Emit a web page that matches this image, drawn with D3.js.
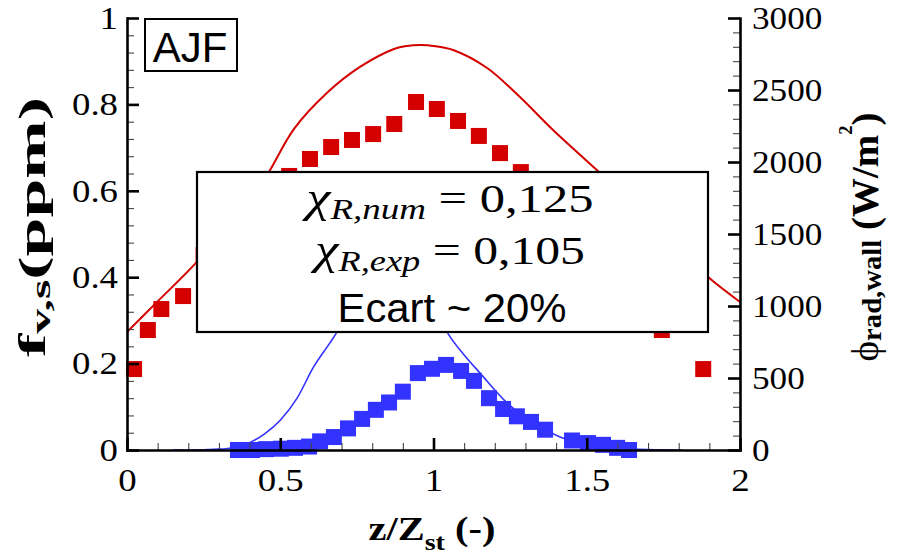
<!DOCTYPE html>
<html>
<head>
<meta charset="utf-8">
<script src="https://cdn.jsdelivr.net/npm/d3@7"></script>
<style>
  body { margin: 0; background: #fff; }
  svg { display: block; }
</style>
</head>
<body>
<svg id="chart" width="905" height="556"></svg>
<script>
// Numerical radiative wall flux (W/m²) along z/z_st
const fluxNumZ = [0, 0.1, 0.225, 0.3, 0.4, 0.463, 0.545, 0.652, 0.76, 0.871, 0.913, 0.96, 1.0, 1.064, 1.175, 1.282, 1.39, 1.54, 1.6, 1.7, 1.8, 1.896, 2.0];
const fluxNumW = [820, 1032, 1299, 1490, 1725, 1931, 2230, 2479, 2660, 2785, 2806, 2812, 2806, 2778, 2653, 2451, 2222, 1931, 1815, 1610, 1400, 1201, 1028];

// Measured radiative wall flux (W/m²)
const fluxExpZ = [0.023, 0.068, 0.112, 0.183, 0.25, 0.32, 0.39, 0.46, 0.529, 0.597, 0.666, 0.734, 0.803, 0.872, 0.943, 1.011, 1.080, 1.148, 1.217, 1.285, 1.354, 1.422, 1.49, 1.56, 1.63, 1.69, 1.745, 1.88];
const fluxExpW = [562, 833, 979, 1069, 1354, 1500, 1650, 1790, 1903, 2021, 2104, 2153, 2194, 2264, 2417, 2368, 2285, 2181, 2062, 1930, 1800, 1650, 1500, 1330, 1150, 980, 833, 562];

// Numerical soot volume fraction (ppm)
const sootNumZ = [0.15, 0.2, 0.3, 0.35, 0.4, 0.45, 0.5, 0.555, 0.607, 0.662, 0.685, 0.75, 0.8, 0.86, 0.92, 0.98, 1.047, 1.1, 1.152, 1.24, 1.325, 1.413, 1.5, 1.6, 1.7, 1.81];
const sootNumV = [0, 0, 0.002, 0.006, 0.017, 0.038, 0.069, 0.12, 0.19, 0.248, 0.273, 0.36, 0.41, 0.44, 0.43, 0.37, 0.27, 0.22, 0.178, 0.109, 0.062, 0.03, 0.012, 0.004, 0.001, 0];

// Measured soot volume fraction (ppm)
const sootExpZ = [0.362, 0.408, 0.454, 0.502, 0.548, 0.594, 0.63, 0.675, 0.721, 0.767, 0.812, 0.855, 0.90, 0.949, 0.995, 1.041, 1.090, 1.132, 1.181, 1.227, 1.272, 1.318, 1.364, 1.452, 1.504, 1.553, 1.599, 1.638];
const sootExpV = [0, 0, 0.002, 0.003, 0.005, 0.008, 0.02, 0.03, 0.05, 0.072, 0.093, 0.11, 0.135, 0.178, 0.188, 0.197, 0.183, 0.16, 0.12, 0.095, 0.078, 0.065, 0.047, 0.022, 0.016, 0.012, 0.005, 0];

// Axis ticks
const xMajor = [0, 0.5, 1, 1.5, 2];
const xLabels = ["0", "0.5", "1", "1.5", "2"];
const yLMajor = [0, 0.2, 0.4, 0.6, 0.8, 1];
const yLLabels = ["0", "0.2", "0.4", "0.6", "0.8", "1"];
const yRMajor = [0, 500, 1000, 1500, 2000, 2500, 3000];
const yRLabels = ["0", "500", "1000", "1500", "2000", "2500", "3000"];

const RED = "#d40000";
const BLUE = "#3333ff";
const SERIF = "'Liberation Serif', 'Times New Roman', serif";
const SANS = "'Liberation Sans', Arial, sans-serif";

const svg = d3.select("#chart");
svg.append("rect").attr("width", 905).attr("height", 556).attr("fill", "#fff");

const x = d3.scaleLinear().domain([0, 2]).range([127, 740]);
const yL = d3.scaleLinear().domain([0, 1]).range([450, 18]);
const yR = d3.scaleLinear().domain([0, 3000]).range([450, 18]);

const fluxNum = d3.zip(fluxNumZ, fluxNumW);
const fluxExp = d3.zip(fluxExpZ, fluxExpW);
const sootNum = d3.zip(sootNumZ, sootNumV);
const sootExp = d3.zip(sootExpZ, sootExpV);

const SQ = 16;

// Data layer
const data = svg.append("g");
data.append("path").datum(fluxNum)
  .attr("fill", "none").attr("stroke", RED).attr("stroke-width", 2)
  .attr("d", d3.line().x(d => x(d[0])).y(d => yR(d[1])).curve(d3.curveCatmullRom.alpha(0.5)));
data.append("path").datum(sootNum)
  .attr("fill", "none").attr("stroke", BLUE).attr("stroke-width", 1.6)
  .attr("d", d3.line().x(d => x(d[0])).y(d => yL(d[1])).curve(d3.curveMonotoneX));
data.selectAll("rect.fexp").data(fluxExp).join("rect").attr("class", "fexp")
  .attr("x", d => x(d[0]) - SQ / 2).attr("y", d => yR(d[1]) - SQ / 2)
  .attr("width", SQ).attr("height", SQ).attr("fill", RED);
data.selectAll("rect.sexp").data(sootExp).join("rect").attr("class", "sexp")
  .attr("x", d => x(d[0]) - SQ / 2).attr("y", d => yL(d[1]) - SQ / 2)
  .attr("width", SQ).attr("height", SQ).attr("fill", BLUE);

// Annotation box with the radiant fractions
const box = svg.append("g");
box.append("rect").attr("x", 197).attr("y", 172).attr("width", 511).attr("height", 160)
  .attr("fill", "#fff").attr("stroke", "#000").attr("stroke-width", 2.2);

function fitX(g, text, cx, cy, target) {
  const w = text.node().getComputedTextLength();
  g.attr("transform", `translate(${cx},${cy}) scale(${target / w},1)`);
}
function mathLine(label, value, cy, target) {
  const g = box.append("g");
  const t = g.append("text").attr("text-anchor", "middle")
    .attr("font-family", SERIF).attr("font-size", 41).attr("fill", "#000");
  t.append("tspan").attr("font-style", "italic").attr("font-size", 44).text("χ");
  t.append("tspan").attr("font-style", "italic").attr("font-size", 30).attr("dy", 7).text(label);
  t.append("tspan").attr("dy", -7).text(" = " + value);
  fitX(g, t, 450, cy, target);
}
mathLine("R,num", "0,125", 212, 287);
mathLine("R,exp", "0,105", 264, 270);
{
  const g = box.append("g");
  const t = g.append("text").attr("text-anchor", "middle")
    .attr("font-family", SANS).attr("font-size", 41).attr("fill", "#000").text("Ecart ~ 20%");
  fitX(g, t, 452, 322, 229);
}

// Case label
svg.append("rect").attr("x", 145).attr("y", 19).attr("width", 92).attr("height", 52)
  .attr("fill", "#fff").attr("stroke", "#000").attr("stroke-width", 2);
svg.append("text").attr("x", 190).attr("y", 62).attr("text-anchor", "middle")
  .attr("font-family", SANS).attr("font-size", 42).text("AJF");

// Axes
function styleAxis(g, stretch) {
  g.attr("font-family", SERIF).attr("font-size", 32);
  g.select(".domain").attr("stroke", "#000").attr("stroke-width", 2.6).attr("stroke-linecap", "square");
  g.selectAll(".tick line").attr("stroke", "#000").attr("stroke-width", 2.6);
  g.selectAll(".tick text").attr("fill", "#000").attr("font-family", SERIF).attr("font-size", 32)
    .each(function () {
      const l = this.getComputedTextLength();
      d3.select(this).attr("textLength", l * stretch).attr("lengthAdjust", "spacingAndGlyphs");
    });
}
function minor(axis, vals, transform) {
  const g = svg.append("g").attr("transform", transform)
    .call(axis.tickValues(vals).tickSize(-7).tickSizeOuter(0).tickFormat(() => ""));
  g.select(".domain").remove();
  g.selectAll(".tick line").attr("stroke", "#444").attr("stroke-width", 1.1);
}
const xMinor = d3.range(0, 2.0001, 0.1).filter(v => Math.abs(v * 2 - Math.round(v * 2)) > 1e-6);
const yLMinor = d3.range(0, 1.0001, 0.04).filter(v => Math.abs(v * 5 - Math.round(v * 5)) > 1e-6);
const yRMinor = d3.range(0, 3001, 100).filter(v => v % 500 !== 0);
minor(d3.axisBottom(x), xMinor, "translate(0,450)");
minor(d3.axisLeft(yL), yLMinor, "translate(127,0)");
minor(d3.axisRight(yR), yRMinor, "translate(740,0)");

const gx = svg.append("g").attr("transform", "translate(0,450)")
  .call(d3.axisBottom(x).tickValues(xMajor).tickFormat((d, i) => xLabels[i])
    .tickSize(-12).tickSizeOuter(0).tickPadding(18));
styleAxis(gx, 1.15);
const gl = svg.append("g").attr("transform", "translate(127,0)")
  .call(d3.axisLeft(yL).tickValues(yLMajor).tickFormat((d, i) => yLLabels[i])
    .tickSize(-12).tickSizeOuter(0).tickPadding(9));
styleAxis(gl, 1.15);
const gr = svg.append("g").attr("transform", "translate(740,0)")
  .call(d3.axisRight(yR).tickValues(yRMajor).tickFormat((d, i) => yRLabels[i])
    .tickSize(-12).tickSizeOuter(0).tickPadding(12));
styleAxis(gr, 1.1);

// Axis titles
{
  const g = svg.append("g");
  const t = g.append("text").attr("text-anchor", "middle").attr("font-family", SERIF)
    .attr("font-weight", "bold").attr("font-size", 33);
  t.append("tspan").text("z/Z");
  t.append("tspan").attr("font-size", 23).attr("dy", 10).text("st");
  t.append("tspan").attr("dy", -10).text(" (-)");
  fitX(g, t, 432, 540, 127);
}
{
  const g = svg.append("g");
  const t = g.append("text").attr("text-anchor", "middle").attr("font-family", SERIF)
    .attr("font-weight", "bold").attr("font-size", 38);
  t.append("tspan").text("f");
  t.append("tspan").attr("font-size", 27).attr("dy", 5).text("v,s");
  t.append("tspan").attr("dy", -5).text("(ppm)");
  const w = t.node().getComputedTextLength();
  g.attr("transform", `translate(45,227) rotate(-90) scale(${260 / w},1)`);
}
{
  const g = svg.append("g");
  const t = g.append("text").attr("text-anchor", "middle").attr("font-family", SERIF)
    .attr("font-weight", "bold").attr("font-size", 38);
  t.append("tspan").attr("font-weight", "normal").text("ϕ");
  t.append("tspan").attr("font-size", 28).attr("dy", 3).text("rad,wall");
  t.append("tspan").attr("dy", -3).text(" (W/m");
  t.append("tspan").attr("font-size", 18).attr("dy", -26).text("2");
  t.append("tspan").attr("dy", 26).text(")");
  const w = t.node().getComputedTextLength();
  g.attr("transform", `translate(878,237) rotate(-90) scale(${249 / w},1)`);
}
</script>
</body>
</html>
